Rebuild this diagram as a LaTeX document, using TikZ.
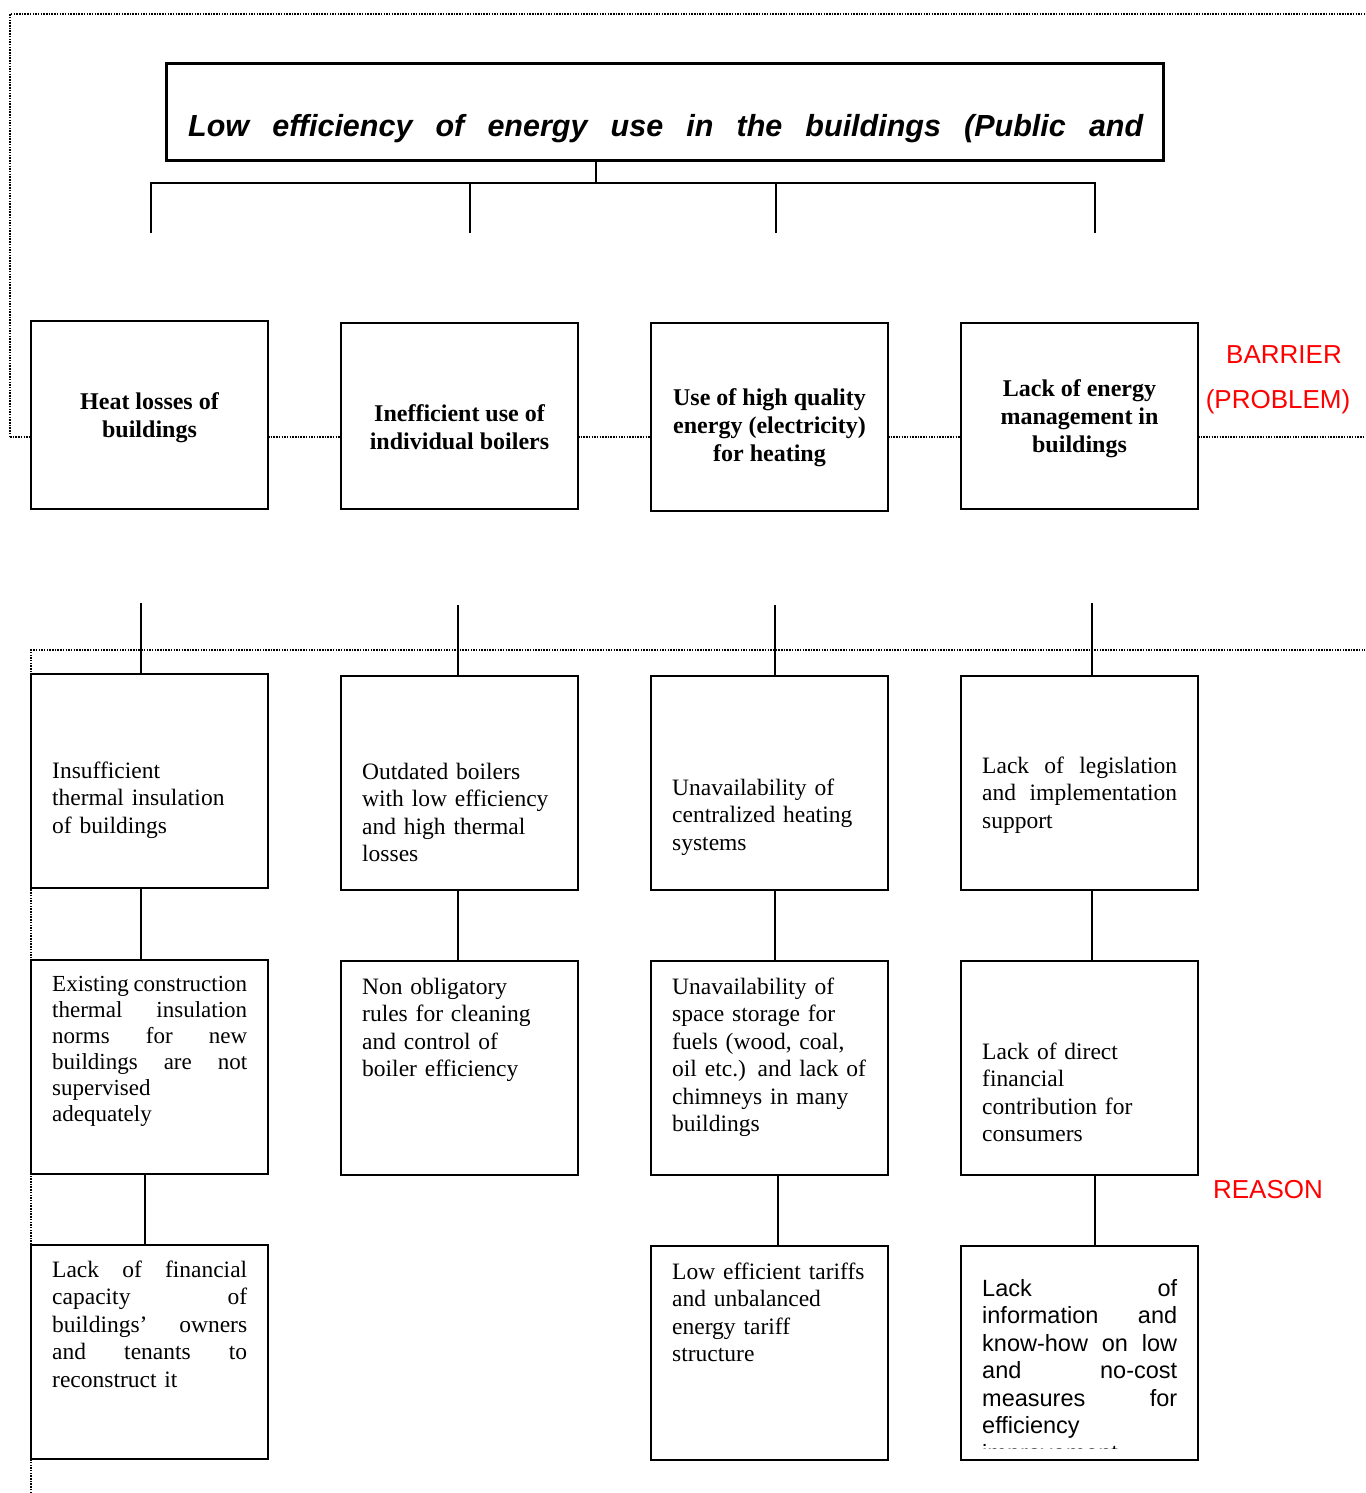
\documentclass[tikz,border=0pt]{standalone}
\usepackage{fontspec}
\setmainfont{Liberation Serif}
\newfontfamily\arialf{Liberation Sans}
\newcommand{\jl}[1]{\makebox[195pt][s]{\spaceskip=0pt\xspaceskip=0pt #1}}
\begin{document}
\begin{tikzpicture}[x=1pt,y=-1pt,
  bbox/.style={draw, line width=2pt, minimum width=237pt, anchor=north west, inner sep=0pt, outer sep=0pt},
  conn/.style={line width=2pt},
  dotline/.style={line width=1.7pt, dash pattern=on 1.5pt off 1.2pt, black},
  btext/.style={inner sep=0pt, align=center, font=\fontsize{24}{28}\selectfont\bfseries},
  rtext/.style={anchor=north west, inner sep=0pt, text width=215pt, align=left,
    font=\fontsize{23.5}{27.5}\selectfont, execute at begin node=\strut},
  redlab/.style={inner sep=0pt, text=red, font=\arialf\fontsize{26}{30}\selectfont}]
\useasboundingbox (0,0) rectangle (1365,1493);
\fill[white] (0,0) rectangle (1365,1493);

% dotted frames
\draw[dotline] (10,437) -- (10,14) -- (1365,14);
\draw[dotline] (31,1493) -- (31,650) -- (1365,650);

% title
\node[draw, line width=3pt, minimum width=997pt, minimum height=97pt, anchor=north west, inner sep=0pt] (T) at (165,62) {};
\node[anchor=base west, inner sep=0pt, font=\arialf\bfseries\itshape\fontsize{30.5}{34}\selectfont] (Tt) at (188,136)
  {\makebox[955pt][s]{Low efficiency of energy use in the buildings (Public and}};

\coordinate (j) at (596,183);
\coordinate (d1) at (151,233);
\coordinate (d2) at (470,233);
\coordinate (d3) at (776,233);
\coordinate (d4) at (1095,233);
\draw[conn] (T.south -| j) -- (j);
\draw[conn] (d1) -- (d1 |- j) -- (d4 |- j) -- (d4);
\draw[conn] (d2) -- (d2 |- j);
\draw[conn] (d3) -- (d3 |- j);

% barrier boxes
\node[bbox, minimum height=188pt] (b1) at (31,321) {};
\node[bbox, minimum height=186pt] (b2) at (341,323) {};
\node[bbox, minimum height=188pt] (b3) at (651,323) {};
\node[bbox, minimum height=186pt] (b4) at (961,323) {};
\node[btext] (bt1) at (149.5,418) {Heat losses of\\buildings};
\node[btext] (bt2) at (459.5,427) {Inefficient use of\\individual boilers};
\node[btext] (bt3) at (769.5,428) {Use of high quality\\energy (electricity)\\for heating};
\node[btext] (bt4) at (1079.5,419) {Lack of energy\\management in\\buildings};

\draw[dotline] (10,437) -- (b1.west |- 0,437);
\draw[dotline] (b1.east |- 0,437) -- (b2.west |- 0,437);
\draw[dotline] (b2.east |- 0,437) -- (b3.west |- 0,437);
\draw[dotline] (b3.east |- 0,437) -- (b4.west |- 0,437);
\draw[dotline] (b4.east |- 0,437) -- (1365,437);

\node[redlab] (lb1) at (1284,355) {BARRIER};
\node[redlab] (lb2) at (1278,402) {(PROBLEM)};
\node[redlab] (lb3) at (1268,1190) {REASON};

% reason boxes
\node[bbox, minimum height=214pt] (c11) at (31,674) {};
\node[bbox, minimum height=214pt] (c21) at (341,676) {};
\node[bbox, minimum height=214pt] (c31) at (651,676) {};
\node[bbox, minimum height=214pt] (c41) at (961,676) {};
\node[bbox, minimum height=214pt] (c12) at (31,960) {};
\node[bbox, minimum height=214pt] (c22) at (341,961) {};
\node[bbox, minimum height=214pt] (c32) at (651,961) {};
\node[bbox, minimum height=214pt] (c42) at (961,961) {};
\node[bbox, minimum height=214pt] (c13) at (31,1245) {};
\node[bbox, minimum height=214pt] (c33) at (651,1246) {};
\node[bbox, minimum height=214pt] (c43) at (961,1246) {};

% connectors barrier -> reasons
\coordinate (u1) at (141,603);
\coordinate (u2) at (458,605);
\coordinate (u3) at (775,605);
\coordinate (u4) at (1092,603);
\draw[conn] (u1) -- (u1 |- c11.north);
\draw[conn] (u2) -- (u2 |- c21.north);
\draw[conn] (u3) -- (u3 |- c31.north);
\draw[conn] (u4) -- (u4 |- c41.north);
\draw[conn] (c11.south -| 141,0) -- (c12.north -| 141,0);
\draw[conn] (c21.south -| 458,0) -- (c22.north -| 458,0);
\draw[conn] (c31.south -| 775,0) -- (c32.north -| 775,0);
\draw[conn] (c41.south -| 1092,0) -- (c42.north -| 1092,0);
\draw[conn] (c12.south -| 145,0) -- (c13.north -| 145,0);
\draw[conn] (c32.south -| 778,0) -- (c33.north -| 778,0);
\draw[conn] (c42.south -| 1095,0) -- (c43.north -| 1095,0);

% reason texts
\node[rtext] (t11) at (52,759) {Insufficient\\thermal insulation\\of buildings};
\node[rtext] (t21) at (362,760) {Outdated boilers\\with low efficiency\\and high thermal\\losses};
\node[rtext] (t31) at (672,776) {Unavailability of\\centralized heating\\systems};
\node[rtext] (t41) at (982,754) {\jl{Lack of legislation}\\\jl{and implementation}\\support};
\node[rtext, font=\fontsize{23}{26}\selectfont] (t12) at (52,973) {\jl{Existing construction}\\\jl{thermal insulation}\\\jl{norms for new}\\\jl{buildings are not}\\supervised\\adequately};
\node[rtext] (t22) at (362,975) {Non obligatory\\rules for cleaning\\and control of\\boiler efficiency};
\node[rtext] (t32) at (672,975) {Unavailability of\\space storage for\\fuels (wood, coal,\\oil etc.) and lack of\\chimneys in many\\buildings};
\node[rtext] (t42) at (982,1040) {Lack of direct\\financial\\contribution for\\consumers};
\node[rtext] (t13) at (52,1258) {\jl{Lack of financial}\\\jl{capacity of}\\\jl{buildings’ owners}\\\jl{and tenants to}\\reconstruct it};
\node[rtext] (t33) at (672,1260) {Low efficient tariffs\\and unbalanced\\energy tariff\\structure};
\begin{scope}
\clip (961,1246) rectangle (1198,1448);
\node[rtext, font=\arialf\fontsize{23.5}{27.5}\selectfont] (t43) at (982,1277) {\jl{Lack of}\\\jl{information and}\\\jl{know-how on low}\\\jl{and no-cost}\\\jl{measures for}\\efficiency\\improvement};
\end{scope}
\end{tikzpicture}
\end{document}
